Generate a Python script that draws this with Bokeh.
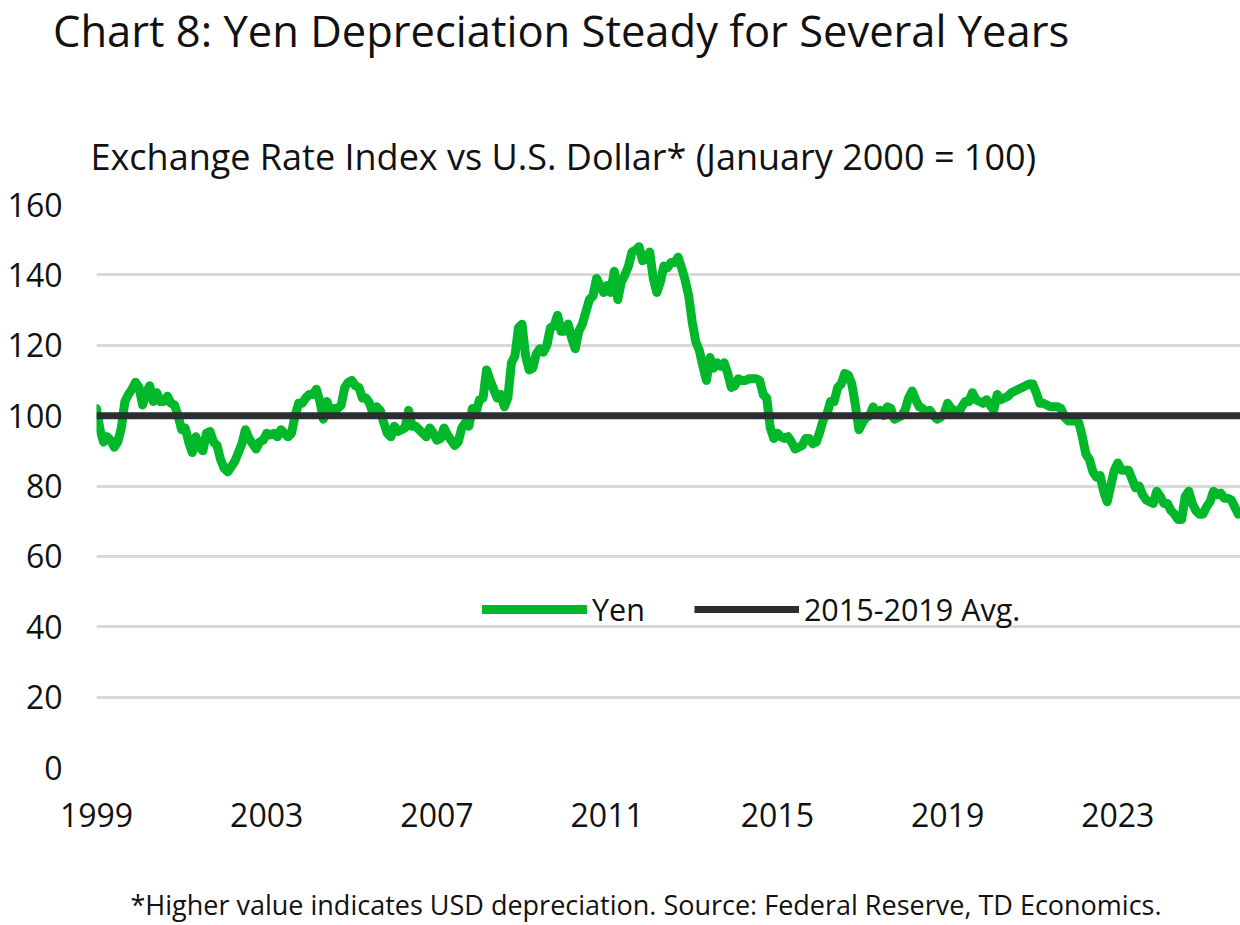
import numpy as np
from bokeh.plotting import figure
from bokeh.layouts import column
from bokeh.models import Range1d, FixedTicker, Legend, LegendItem
from bokeh.embed import file_html
from bokeh.resources import INLINE
from bokeh.core.properties import value

# ---------------- data ----------------
START_YEAR = 1999  # first month: Jan 1999, monthly through Nov 2025

yen_1999 = [102, 96, 92.5, 94, 93, 91, 92.5, 96.5, 104, 106, 107.5, 109.5]
yen_2000 = [108, 103, 106.5, 108.5, 104, 106.5, 104, 104, 105.5, 103.5, 103, 100]
yen_2001 = [96, 96.5, 92.5, 89.5, 94, 91, 90, 95, 95.5, 92.5, 91.5, 87.5]
yen_2002 = [85, 84, 85.5, 87, 89.5, 92, 96, 93.5, 92, 90.5, 92.5, 93]
yen_2003 = [95, 94.5, 95, 94, 96, 95, 94, 95, 100, 103.5, 103.5, 105]
yen_2004 = [106, 106, 107.5, 104, 99, 104, 101, 102, 102, 103, 108, 109.5]
yen_2005 = [110, 108.5, 108, 105, 105, 103.5, 100.5, 102.5, 101.5, 98, 95, 94]
yen_2006 = [97, 95.5, 96, 96.5, 101.5, 97, 97, 96, 95, 94, 96.5, 95]
yen_2007 = [93, 93.5, 96.5, 94.5, 93, 91.5, 92.5, 96.5, 98, 97, 102, 101]
yen_2008 = [104.5, 105, 113, 110, 107.5, 105, 106, 102.5, 105, 115, 117, 125]
yen_2009 = [126, 117, 113, 113.5, 117.5, 119, 118, 120, 125, 125.5, 128.5, 124]
yen_2010 = [124, 126, 122, 119, 124, 126, 129.5, 133, 134, 139, 137, 135]
yen_2011 = [137, 135, 141, 133, 138, 140, 142.5, 146.5, 147, 148, 144, 144.5]
yen_2012 = [146.5, 139, 135, 138, 142.5, 142, 143.5, 143.5, 145, 142, 138.5, 134]
yen_2013 = [126.5, 121, 118.5, 114, 110, 116.5, 113.5, 115, 114, 115, 112, 108]
yen_2014 = [108.5, 110.5, 110, 110, 110.5, 110.5, 110.5, 110, 106, 105, 96.5, 93.5]
yen_2015 = [95, 94, 93.5, 94, 92.5, 90.5, 91, 91.5, 93.5, 93.5, 92, 92.5]
yen_2016 = [95.5, 99, 100.5, 104, 104, 108, 109, 112, 111.5, 109, 103, 96]
yen_2017 = [98, 99.5, 100, 102.5, 100.5, 101.5, 100, 102.5, 102, 99, 99.5, 100]
yen_2018 = [101.5, 105, 107, 104.5, 102.5, 102, 101, 101.5, 100, 99, 99.5, 100.5]
yen_2019 = [103.5, 102, 101.5, 100.5, 102.5, 104, 104, 106.5, 104.5, 104, 103.5, 104.5]
yen_2020 = [103, 101.5, 106, 104.5, 105, 105.5, 106.5, 107, 107.5, 108, 108.5, 109]
yen_2021 = [109, 106.5, 103.5, 103.5, 103, 102.5, 102.5, 102.5, 102, 99.5, 98.5, 98.5]
yen_2022 = [98.5, 98, 94, 89, 87.5, 84, 82.5, 83, 78.5, 75.5, 80, 84.5]
yen_2023 = [86.5, 84.5, 84.5, 84.5, 82, 79.5, 80, 77.5, 76, 75.5, 75, 78.5]
yen_2024 = [77, 75, 75, 73, 72, 70.5, 70.5, 77, 78.5, 75, 73, 72]
yen_2025 = [72, 74, 75.5, 78.5, 77.5, 78, 76.5, 76.5, 76, 74, 72]

avg_2015_2019 = 100
x_tick_years = [1999, 2003, 2007, 2011, 2015, 2019, 2023]
y_ticks = [0, 20, 40, 60, 80, 100, 120, 140, 160]

title_text = "Chart 8: Yen Depreciation Steady for Several Years"
subtitle_text = "Exchange Rate Index vs U.S. Dollar* (January 2000 = 100)"
footnote_text = "*Higher value indicates USD depreciation. Source: Federal Reserve, TD Economics."
series_labels = ["Yen", "2015-2019 Avg."]

# ---------------- build ----------------
yen = (yen_1999 + yen_2000 + yen_2001 + yen_2002 + yen_2003 + yen_2004 + yen_2005 +
       yen_2006 + yen_2007 + yen_2008 + yen_2009 + yen_2010 + yen_2011 + yen_2012 +
       yen_2013 + yen_2014 + yen_2015 + yen_2016 + yen_2017 + yen_2018 + yen_2019 +
       yen_2020 + yen_2021 + yen_2022 + yen_2023 + yen_2024 + yen_2025)
months = START_YEAR + np.arange(len(yen)) / 12.0
x_end = float(months[-1]) + 0.05

FONT = "Open Sans"
GREEN = "#00B82A"
DARK = "#2A2D31"
GRID = "#D9D9D9"
TXT = "#111111"
W = 1240


def text_panel(height):
    f = figure(width=W, height=height, output_backend="svg", toolbar_location=None,
               x_range=Range1d(0, W), y_range=Range1d(height, 0),
               x_axis_type=None, y_axis_type=None, min_border=0,
               frame_align=False)
    f.outline_line_color = None
    f.xgrid.visible = False
    f.ygrid.visible = False
    return f


# top: title and subtitle
TOP_H = 180
top = text_panel(TOP_H)
top.text(x=[52.5], y=[30], text=[title_text], text_font=value(FONT),
         text_font_size="43.5px", text_color=TXT, text_baseline="middle", text_align="left")
top.text(x=[90], y=[155.5], text=[subtitle_text], text_font=value(FONT),
         text_font_size="36px", text_color=TXT, text_baseline="middle", text_align="left")

# main chart (frame spans x 96..1240, y 204..767 on the page)
MAIN_H = 660
p = figure(width=W, height=MAIN_H, output_backend="svg", toolbar_location=None,
           x_range=Range1d(START_YEAR, x_end), y_range=Range1d(0, 160),
           min_border_left=96, min_border_right=0, min_border_top=204 - TOP_H,
           min_border_bottom=TOP_H + MAIN_H - 767)
p.outline_line_color = None
p.xgrid.visible = False
p.ygrid.grid_line_color = GRID
p.ygrid.grid_line_width = 3

for ax in (p.xaxis[0], p.yaxis[0]):
    ax.axis_line_color = None
    ax.major_tick_line_color = None
    ax.minor_tick_line_color = None
    ax.major_label_text_font = FONT
    ax.major_label_text_font_size = "32px"
    ax.major_label_text_color = TXT

p.xaxis[0].ticker = FixedTicker(ticks=x_tick_years)
p.xaxis[0].major_label_overrides = {t: str(t) for t in x_tick_years}
p.xaxis[0].major_label_standoff = 29
p.yaxis[0].ticker = FixedTicker(ticks=y_ticks)
p.yaxis[0].major_label_overrides = {t: str(t) for t in y_ticks}
p.yaxis[0].major_label_standoff = 28

g = p.line(months, yen, line_color=GREEN, line_width=9, line_join="round", line_cap="round")
b = p.line([START_YEAR, x_end], [avg_2015_2019, avg_2015_2019], line_color=DARK, line_width=7)

legend = Legend(items=[LegendItem(label=series_labels[0], renderers=[g]),
                       LegendItem(label=series_labels[1], renderers=[b])],
                orientation="horizontal", location=(386, 137),
                border_line_color=None, background_fill_alpha=0,
                glyph_width=105, glyph_height=30, label_height=30,
                label_standoff=5, spacing=49, padding=0, margin=0,
                label_text_font=FONT, label_text_font_size="30.5px",
                label_text_color=TXT)
p.add_layout(legend)

# bottom: footnote
BOT_H = 925 - TOP_H - MAIN_H
bot = text_panel(BOT_H)
bot.text(x=[645.5], y=[904 - TOP_H - MAIN_H], text=[footnote_text], text_font=value(FONT),
         text_font_size="27px", text_color=TXT, text_baseline="middle", text_align="center")

layout = column(top, p, bot, spacing=0)
open("out.html", "w").write(file_html(layout, INLINE))
